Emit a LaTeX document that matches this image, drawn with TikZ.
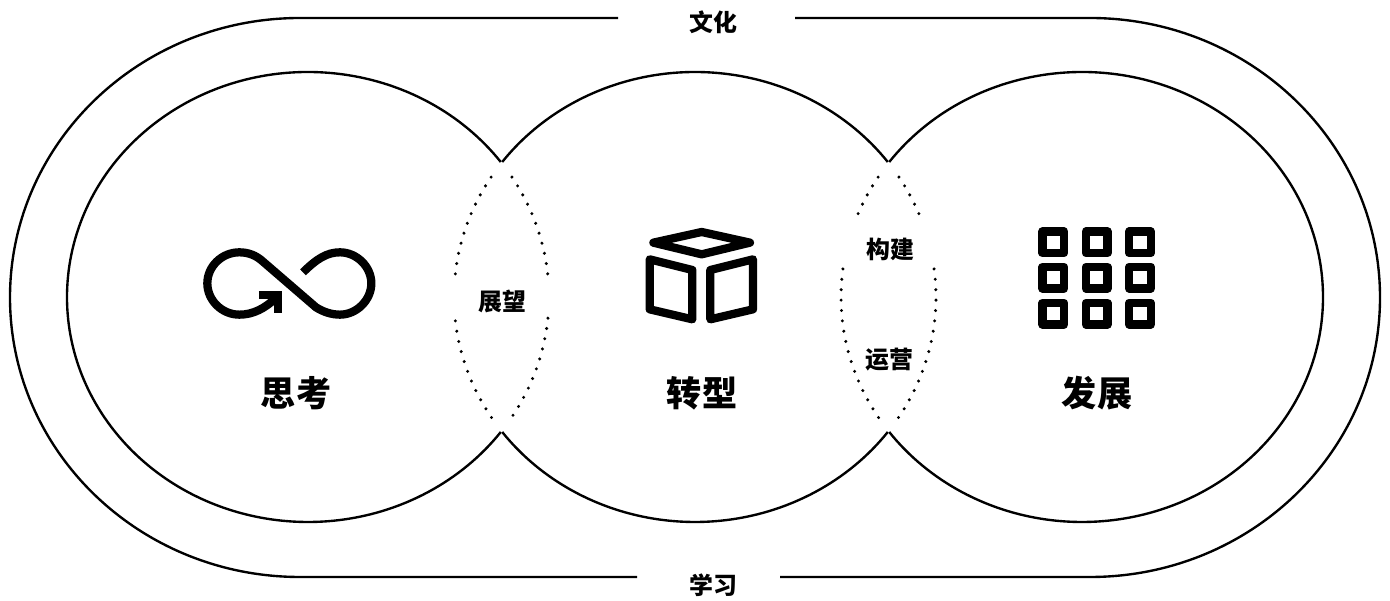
\documentclass[tikz,border=0pt]{standalone}
\usepackage{fontspec}
\setmainfont{Noto Sans CJK SC}[BoldFont={Noto Sans CJK SC Bold}]
\newfontfamily\cjkbold{Noto Sans CJK SC Black}

\begin{document}
\begin{tikzpicture}
      [x = 0.02cm, y = 0.02cm,
      ring/.style={line width = 1.35pt},
      dotline/.style= {
         line width = 1.9pt,
         line cap = round,
         dash pattern = on 0pt off 5.93pt
      },
      icon/.style= {
         line width = 4.7pt
      },
      bigtext/.style= {
         font = \cjkbold\fontsize{20}{24}\selectfont
      },
      smalltext/.style= {
         font = \cjkbold\fontsize{13.6}{16}\selectfont
      }]

      \useasboundingbox (0, 0) rectangle (1390, 601);

      % outer band
      \draw[ring] (618, 583) -- (300, 583) arc[start angle = 90, end angle = 270, x radius = 290, y radius = 279.5] -- (637, 24);
      \draw[ring] (795, 583) -- (1090, 583) arc[start angle = 90, end angle = -90, x radius = 290, y radius = 279.5] -- (780, 24);

      % three circles
      \draw[ring] (308, 304) ++(36.87:241 and 225) arc[start angle = 36.87, end angle = 323.13, x radius = 241, y radius = 225];
      \draw[ring] (695, 304) ++(143.13:241 and 225) arc[start angle = 143.13, end angle = 36.87, x radius = 241, y radius = 225];
      \draw[ring] (695, 304) ++(216.87:241 and 225) arc[start angle = 216.87, end angle = 323.13, x radius = 241, y radius = 225];
      \draw[ring] (1082, 304) ++(143.13:241 and 225) arc[start angle = 143.13, end angle = -143.13, x radius = 241, y radius = 225];

      % dotted parts
      \foreach \from/\to in {32.2/5.4, -5.4/-32.4}
         \draw[dotline] (308, 304) ++(\from:241 and 225) arc[start angle = \from, end angle = \to, x radius = 241, y radius = 225];
      \foreach \from/\to in {147.8/174.6, 212.4/185.4}
         \draw[dotline] (695, 304) ++(\from:241 and 225) arc[start angle = \from, end angle = \to, x radius = 241, y radius = 225];
      \foreach \from/\to in {32.2/21.4, -32.4/7.9}
         \draw[dotline] (695, 304) ++(\from:241 and 225) arc[start angle = \from, end angle = \to, x radius = 241, y radius = 225];
      \foreach \from/\to in {147.8/158.6, 212.4/172.1}
         \draw[dotline] (1082, 304) ++(\from:241 and 225) arc[start angle = \from, end angle = \to, x radius = 241, y radius = 225];

      % infinity
      \begin{scope}[shift = {(180, 381)}, x = 0.00667cm, y = -0.00667cm]
         \draw[icon] (290, 232) .. controls (255, 265) and (220, 284) .. (178, 284)
            .. controls (125, 284) and (82, 240) .. (82, 190)
            .. controls (82, 140) and (125, 97) .. (178, 97)
            .. controls (205, 97) and (228, 106) .. (248, 124)
            -- (408, 262)
            .. controls (430, 276) and (455, 284) .. (480, 284)
            .. controls (530, 284) and (574, 240) .. (574, 190)
            .. controls (574, 140) and (530, 97) .. (480, 97)
            .. controls (440, 97) and (410, 117) .. (369, 157);
         \draw[icon, miter limit = 10] (237, 225) -- (294, 225) -- (294, 278);
      \end{scope}

      % cube
      \begin{scope}[shift = {(620, 391)}, x = 0.00667cm, y = -0.00667cm]
         \draw[icon, line join = round] (100, 98) -- (245, 66) -- (390, 98) -- (245, 133) -- cycle;
         \draw[icon, line join = round] (89, 148) -- (217, 180) -- (217, 328) -- (89, 298) -- cycle;
         \draw[icon, line join = round] (399, 148) -- (271, 180) -- (271, 328) -- (399, 298) -- cycle;
      \end{scope}

      % grid of squares
      \foreach \col in {1053.3, 1096.7, 1140}
         \foreach \row in {358.7, 323.3, 287.3}
            \draw[line width = 4.7pt, line join = round] (\col - 10.8, \row - 10.8) rectangle (\col + 10.8, \row + 10.8);

      % labels
      \node[smalltext] (culture) at (713, 579) {文化};
      \node[smalltext] (learning) at (713, 16) {学习};
      \node[smalltext] (outlook) at (502, 300) {展望};
      \node[smalltext] (build) at (890, 352) {构建};
      \node[smalltext] (operate) at (889, 241) {运营};
      \node[bigtext] (think) at (296, 208) {思考};
      \node[bigtext] (shift) at (702, 208) {转型};
      \node[bigtext] (develop) at (1097, 208) {发展};

   \end{tikzpicture}
\end{document}
